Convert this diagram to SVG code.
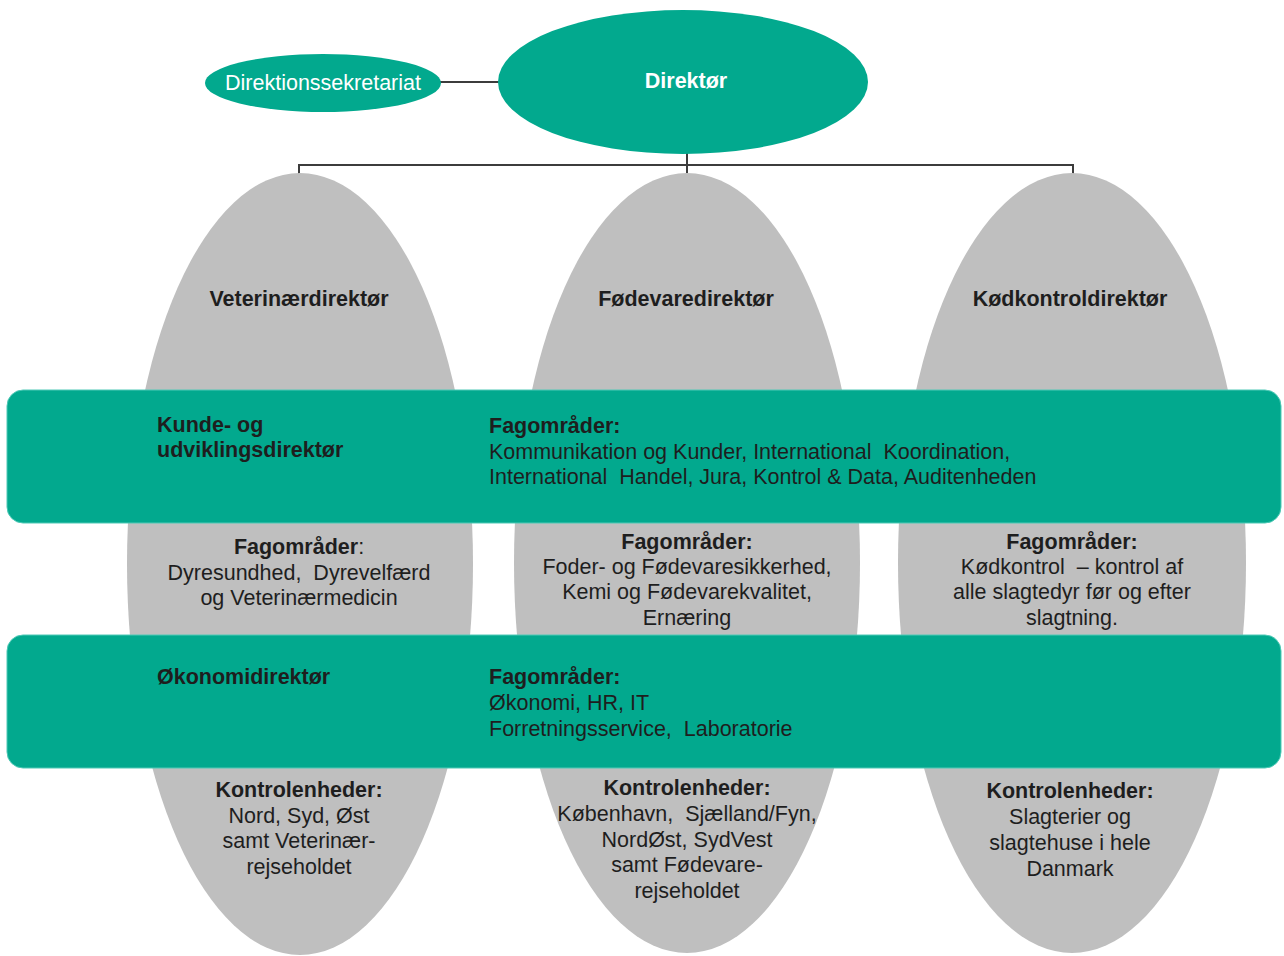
<svg xmlns="http://www.w3.org/2000/svg" width="1284" height="956" viewBox="0 0 1284 956">
<style>
text{font-family:"Liberation Sans",Arial,sans-serif;font-size:21.5px;fill:#1e1e1e;white-space:pre}
.b{font-weight:bold}
.w{fill:#ffffff}
.c{text-anchor:middle}
.green{fill:#02a98e}
.band{fill:#02a98e;stroke:#4fc9b6;stroke-width:1}
.grey{fill:#bfbfbf}
.conn{stroke:#3c3c3c;stroke-width:2;fill:none}
</style>
<g id="connectors">
<line class="conn" x1="440" y1="82" x2="500" y2="82"/>
<line class="conn" x1="687" y1="152" x2="687" y2="176"/>
<polyline class="conn" points="299,176 299,165 1073,165 1073,176"/>
</g>
<g id="direktionssekretariat">
<ellipse class="green" cx="323" cy="83" rx="118" ry="29"/>
<text class="w c" x="323" y="90">Direktionssekretariat</text>
</g>
<g id="direktor">
<ellipse class="green" cx="683" cy="82" rx="185" ry="72"/>
<text class="w c b" x="686" y="88">Direktør</text>
</g>
<g id="veterinaerdirektor">
<ellipse class="grey" cx="300" cy="564" rx="173" ry="391"/>
<text class="c b" x="299" y="306">Veterinærdirektør</text>
<text class="c" x="299" y="554"><tspan class="b">Fagområder</tspan>:</text>
<text class="c" x="299" y="580">Dyresundhed,  Dyrevelfærd</text>
<text class="c" x="299" y="605">og Veterinærmedicin</text>
<text class="c b" x="299" y="797">Kontrolenheder:</text>
<text class="c" x="299" y="823">Nord, Syd, Øst</text>
<text class="c" x="299" y="848">samt Veterinær-</text>
<text class="c" x="299" y="874">rejseholdet</text>
</g>
<g id="fodevaredirektor">
<ellipse class="grey" cx="687" cy="563" rx="173" ry="390"/>
<text class="c b" x="686" y="306">Fødevaredirektør</text>
<text class="c b" x="687" y="549">Fagområder:</text>
<text class="c" x="687" y="574">Foder- og Fødevaresikkerhed,</text>
<text class="c" x="687" y="599">Kemi og Fødevarekvalitet,</text>
<text class="c" x="687" y="625">Ernæring</text>
<text class="c b" x="687" y="795">Kontrolenheder:</text>
<text class="c" x="687" y="821">København,  Sjælland/Fyn,</text>
<text class="c" x="687" y="847">NordØst, SydVest</text>
<text class="c" x="687" y="872">samt Fødevare-</text>
<text class="c" x="687" y="898">rejseholdet</text>
</g>
<g id="kodkontroldirektor">
<ellipse class="grey" cx="1072" cy="563" rx="174" ry="390"/>
<text class="c b" x="1070" y="306">Kødkontroldirektør</text>
<text class="c b" x="1072" y="549">Fagområder:</text>
<text class="c" x="1072" y="574">Kødkontrol  – kontrol af</text>
<text class="c" x="1072" y="599">alle slagtedyr før og efter</text>
<text class="c" x="1072" y="625">slagtning.</text>
<text class="c b" x="1070" y="798">Kontrolenheder:</text>
<text class="c" x="1070" y="824">Slagterier og</text>
<text class="c" x="1070" y="850">slagtehuse i hele</text>
<text class="c" x="1070" y="876">Danmark</text>
</g>
<g id="kunde-og-udviklingsdirektor">
<rect class="band" x="7" y="390" width="1274" height="133" rx="16"/>
<text class="b" x="157" y="432">Kunde- og</text>
<text class="b" x="157" y="457">udviklingsdirektør</text>
<text class="b" x="489" y="433">Fagområder:</text>
<text x="489" y="459">Kommunikation og Kunder, International  Koordination,</text>
<text x="489" y="484">International  Handel, Jura, Kontrol &amp; Data, Auditenheden</text>
</g>
<g id="okonomidirektor">
<rect class="band" x="7" y="635" width="1274" height="133" rx="16"/>
<text class="b" x="157" y="684">Økonomidirektør</text>
<text class="b" x="489" y="684">Fagområder:</text>
<text x="489" y="710">Økonomi, HR, IT</text>
<text x="489" y="736">Forretningsservice,  Laboratorie</text>
</g>
</svg>
